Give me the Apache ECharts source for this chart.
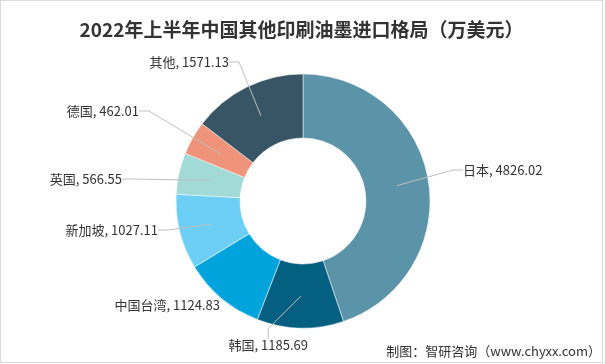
<!DOCTYPE html>
<html><head><meta charset="utf-8">
<script src="https://cdn.jsdelivr.net/npm/echarts@6/dist/echarts.min.js"></script>
<style>html,body{margin:0;padding:0;background:#fff}#c{width:601px;height:361px;border:1px solid #d9d9d9;}</style>
</head><body><div id="c"></div>
<script>
const categories = ['日本','韩国','中国台湾','新加坡','英国','德国','其他'];
const values = [4826.02,1185.69,1124.83,1027.11,566.55,462.01,1571.13];
const colors = ['#5b93a8','#045f80','#00a3db','#6dcff6','#a1dad7','#f0937b','#375564'];
const showLine = [true,true,false,true,true,true,true];
// label anchor (x, y, align) per category
const labelPos = [[462,169,'left'],[307,344,'right'],[219,304,'right'],[157,229,'right'],[121,178,'right'],[138,110,'right'],[228,61,'right']];
const chart = echarts.init(document.getElementById('c'));
chart.setOption({
  animation:false,
  title:{text:'2022年上半年中国其他印刷油墨进口格局（万美元）',left:'center',top:14,
    textStyle:{fontSize:19,fontWeight:'bold',color:'#333',fontFamily:'Noto Sans CJK SC'}},
  graphic:[{type:'text',right:1,top:344,style:{text:'制图：智研咨询（www.chyxx.com）',fontSize:13,fill:'#333',fontFamily:'Noto Sans CJK SC'}}],
  series:[{
    type:'pie',center:[302,200],radius:[63,127],startAngle:90,clockwise:true,silent:true,
    data:categories.map((n,i)=>({name:n,value:values[i],itemStyle:{color:colors[i]}})),
    itemStyle:{borderColor:'#fff',borderWidth:0.5},
    label:{show:false},labelLine:{show:false}
  },{
    type:'pie',center:[302,200],radius:[0,95],startAngle:90,clockwise:true,silent:true,z:3,
    data:categories.map((n,i)=>({name:n,value:values[i],itemStyle:{color:'rgba(0,0,0,0)'},labelLine:{show:showLine[i]}})),
    label:{formatter:'{b}, {c}',fontSize:13,color:'#333',fontFamily:'Noto Sans CJK SC'},
    labelLine:{show:true,length:10,length2:10,lineStyle:{color:'#bfbfbf',width:1}},
    labelLayout:function(p){const a=labelPos[p.dataIndex];return {x:a[0],y:a[1],align:a[2],verticalAlign:'middle'};}
  }]
});
</script></body></html>
